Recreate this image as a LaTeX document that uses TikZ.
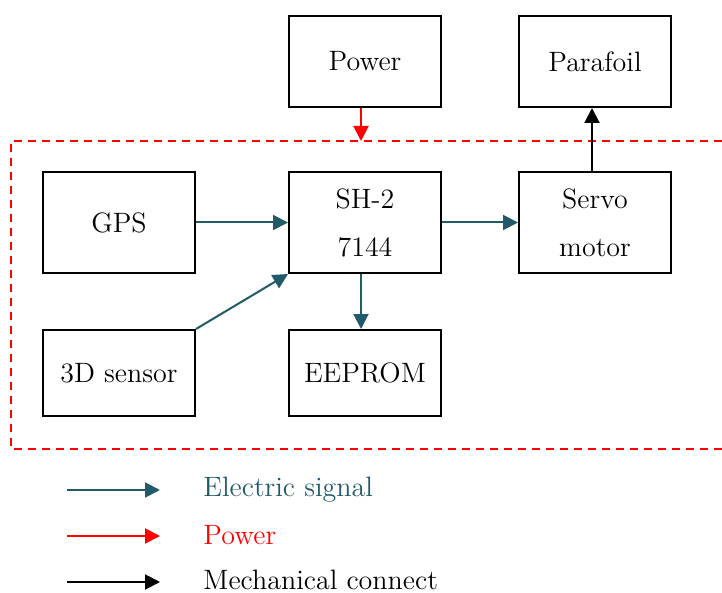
\documentclass[tikz,border=0pt]{standalone}
\usetikzlibrary{arrows.meta}
\definecolor{sigteal}{RGB}{33,90,104}
\begin{document}
\begin{tikzpicture}[
        x=0.5pt, y=-0.5pt,
        >={Triangle[length=7.5pt,width=7.5pt]},
        blk/.style={rectangle, draw, line width=1pt, minimum width=76pt, inner sep=0pt, align=center, font=\fontsize{14}{24}\selectfont},
        sig/.style={->, color=sigteal, line width=1pt},
        pwr/.style={->, color=red, line width=1pt},
        mech/.style={->, color=black, line width=1pt},
        lbl/.style={anchor=west, inner sep=0pt, font=\fontsize{14}{17}\selectfont}
    ]
    \useasboundingbox (0,0) rectangle (722,593);

    % Blocchi
    \node[blk, minimum height=45.5pt] (power)    at (365,61.5)  {Power};
    \node[blk, minimum height=45.5pt] (parafoil) at (595,61.5)  {Parafoil};

    \node[blk, minimum height=50.5pt] (gps)      at (119,222.5) {GPS};
    \node[blk, minimum height=50.5pt] (mcu)      at (365,222.5) {SH-2\\7144};
    \node[blk, minimum height=50.5pt] (servo)    at (595,222.5) {Servo\\motor};

    \node[blk, minimum height=43pt]   (sensor)   at (119,373)   {3D sensor};
    \node[blk, minimum height=43pt]   (eeprom)   at (365,373)   {EEPROM};

    % Riquadro tratteggiato
    \coordinate (frametl) at (11,141);
    \coordinate (framebl) at (11,449);
    \draw[red, line width=0.75pt, dash pattern=on 4pt off 3pt] (722,141) -- (frametl) -- (framebl) -- (722,449);

    % Collegamenti
    \draw[pwr]  ([xshift=-2pt]power.south) -- ([xshift=-2pt]power.south |- frametl);
    \draw[sig]  (gps) -- (mcu);
    \draw[sig]  (mcu) -- (servo);
    \draw[sig]  (sensor.north east) -- (mcu.south west);
    \draw[sig]  ([xshift=-2pt]mcu.south) -- ([xshift=-2pt]eeprom.north);
    \draw[mech] ([xshift=-1.5pt]servo.north) -- ([xshift=-1.5pt]parafoil.south);

    % Legenda
    \coordinate (ksigA) at (67,490);  \coordinate (ksigB) at (160,490);
    \coordinate (kpwrA) at (67,536);  \coordinate (kpwrB) at (160,536);
    \coordinate (kmecA) at (67,582);  \coordinate (kmecB) at (160,582);
    \draw[sig]  (ksigA) -- (ksigB);
    \draw[pwr]  (kpwrA) -- (kpwrB);
    \draw[mech] (kmecA) -- (kmecB);
    \node[lbl, text=sigteal] (ksig) at (203,490) {Electric signal};
    \node[lbl, text=red]     (kpwr) at (203,535) {Power};
    \node[lbl]               (kmec) at (203,580) {Mechanical connect};

\end{tikzpicture}
\end{document}
